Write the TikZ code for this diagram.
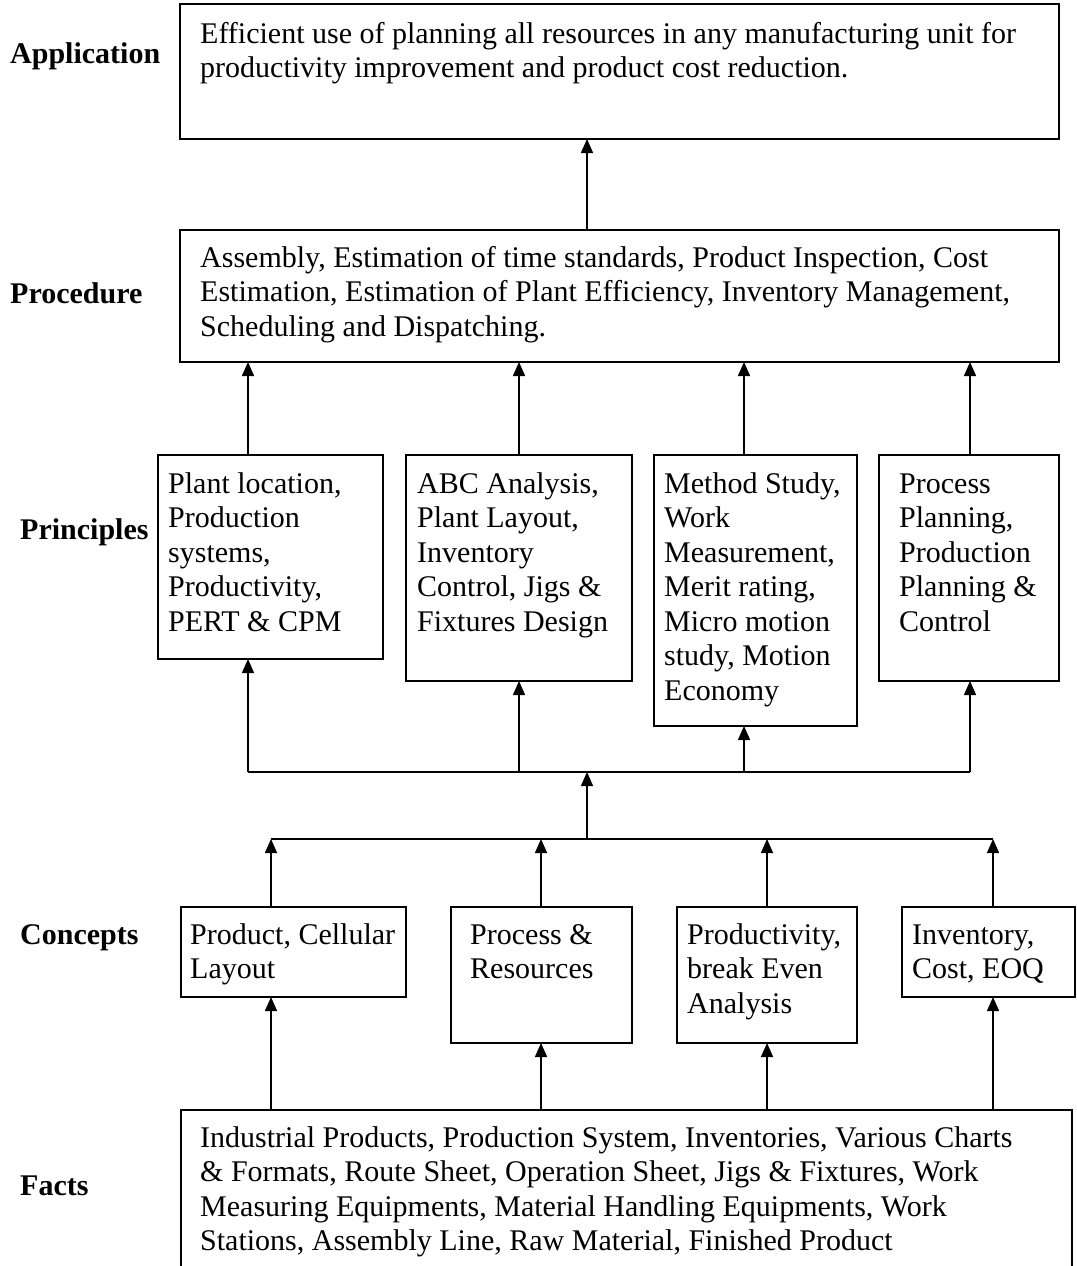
\documentclass[tikz,border=0pt]{standalone}
\usepackage{fontspec}
\setmainfont{Liberation Serif}
\usetikzlibrary{arrows.meta}
\tikzset{
  box/.style={draw, line width=1.8pt, anchor=north west, inner sep=0pt, outer sep=0pt},
  txt/.style={anchor=base west, inner sep=0pt, font=\fontsize{30}{34.5}\selectfont},
  lbl/.style={anchor=base west, inner sep=0pt, font=\fontsize{30}{34.5}\selectfont\bfseries},
  arr/.style={line width=1.5pt, -{Triangle[length=14pt,width=12pt]}},
  bus/.style={line width=1.5pt},
}
\newcommand{\lines}[1]{\begin{tabular}[t]{@{}l@{}}#1\end{tabular}}
\begin{document}
\begin{tikzpicture}[x=1pt,y=-1pt]
\useasboundingbox (0,0) rectangle (1076,1266);
\clip (0,0) rectangle (1076,1266);
\fill[white] (0,0) rectangle (1076,1266);

% boxes
\node[box, minimum width=879pt, minimum height=135pt] (app) at (180,4) {};
\node[box, minimum width=879pt, minimum height=132pt] (proc) at (180,230) {};
\node[box, minimum width=225pt, minimum height=204pt] (p1) at (158,455) {};
\node[box, minimum width=226pt, minimum height=226pt] (p2) at (406,455) {};
\node[box, minimum width=203pt, minimum height=271pt] (p3) at (654,455) {};
\node[box, minimum width=180pt, minimum height=226pt] (p4) at (879,455) {};
\node[box, minimum width=225pt, minimum height=90pt] (c1) at (181,907) {};
\node[box, minimum width=181pt, minimum height=136pt] (c2) at (451,907) {};
\node[box, minimum width=180pt, minimum height=136pt] (c3) at (677,907) {};
\node[box, minimum width=173pt, minimum height=90pt] (c4) at (902,907) {};
\node[box, minimum width=891pt, minimum height=220pt] (facts) at (181,1110) {};

% row labels
\node[lbl] (l-app) at (10,63) {Application};
\node[lbl] (l-proc) at (10,303) {Procedure};
\node[lbl] (l-prin) at (20,539) {Principles};
\node[lbl] (l-conc) at (20,944) {Concepts};
\node[lbl] (l-fact) at (20,1195) {Facts};

% box texts
\node[txt] (app-t) at (200,43) {\lines{Efficient use of planning all resources in any manufacturing unit for\\productivity improvement and product cost reduction.}};
\node[txt] (proc-t) at (200,267) {\lines{Assembly, Estimation of time standards, Product Inspection, Cost\\Estimation, Estimation of Plant Efficiency, Inventory Management,\\Scheduling and Dispatching.}};
\node[txt] (p1-t) at (168,493) {\lines{Plant location,\\Production\\systems,\\Productivity,\\PERT \& CPM}};
\node[txt] (p2-t) at (417,493) {\lines{ABC Analysis,\\Plant Layout,\\Inventory\\Control, Jigs \&\\Fixtures Design}};
\node[txt] (p3-t) at (664,493) {\lines{Method Study,\\Work\\Measurement,\\Merit rating,\\Micro motion\\study, Motion\\Economy}};
\node[txt] (p4-t) at (899,493) {\lines{Process\\Planning,\\Production\\Planning \&\\Control}};
\node[txt] (c1-t) at (190,944) {\lines{Product, Cellular\\Layout}};
\node[txt] (c2-t) at (470,944) {\lines{Process \&\\Resources}};
\node[txt] (c3-t) at (687,944) {\lines{Productivity,\\break Even\\Analysis}};
\node[txt] (c4-t) at (912,944) {\lines{Inventory,\\Cost, EOQ}};
\node[txt] (facts-t) at (200,1147) {\lines{Industrial Products, Production System, Inventories, Various Charts\\\& Formats, Route Sheet, Operation Sheet, Jigs \& Fixtures, Work\\Measuring Equipments, Material Handling Equipments, Work\\Stations, Assembly Line, Raw Material, Finished Product}};

% connector positions
\coordinate (ax) at (587,0);
\coordinate (ub) at (0,772);
\coordinate (lb) at (0,839);
\coordinate (x1) at (248,0);
\coordinate (x2) at (519,0);
\coordinate (x3) at (744,0);
\coordinate (x4) at (970,0);
\coordinate (y1) at (271,0);
\coordinate (y2) at (541,0);
\coordinate (y3) at (767,0);
\coordinate (y4) at (993,0);

% procedure -> application
\draw[arr] (ax |- proc.north) -- (ax |- app.south);
% principles -> procedure
\foreach \k in {1,2,3,4}{
  \draw[arr] (x\k |- p\k.north) -- (x\k |- proc.south);
  \draw[arr] (x\k |- ub) -- (x\k |- p\k.south);
}
\draw[bus] (x1 |- ub) -- (x4 |- ub);
% lower bus -> upper bus
\draw[arr] (ax |- lb) -- (ax |- ub);
\draw[bus] (y1 |- lb) -- (y4 |- lb);
% concepts -> lower bus, facts -> concepts
\foreach \k in {1,2,3,4}{
  \draw[arr] (y\k |- c\k.north) -- (y\k |- lb);
  \draw[arr] (y\k |- facts.north) -- (y\k |- c\k.south);
}
\end{tikzpicture}
\end{document}
